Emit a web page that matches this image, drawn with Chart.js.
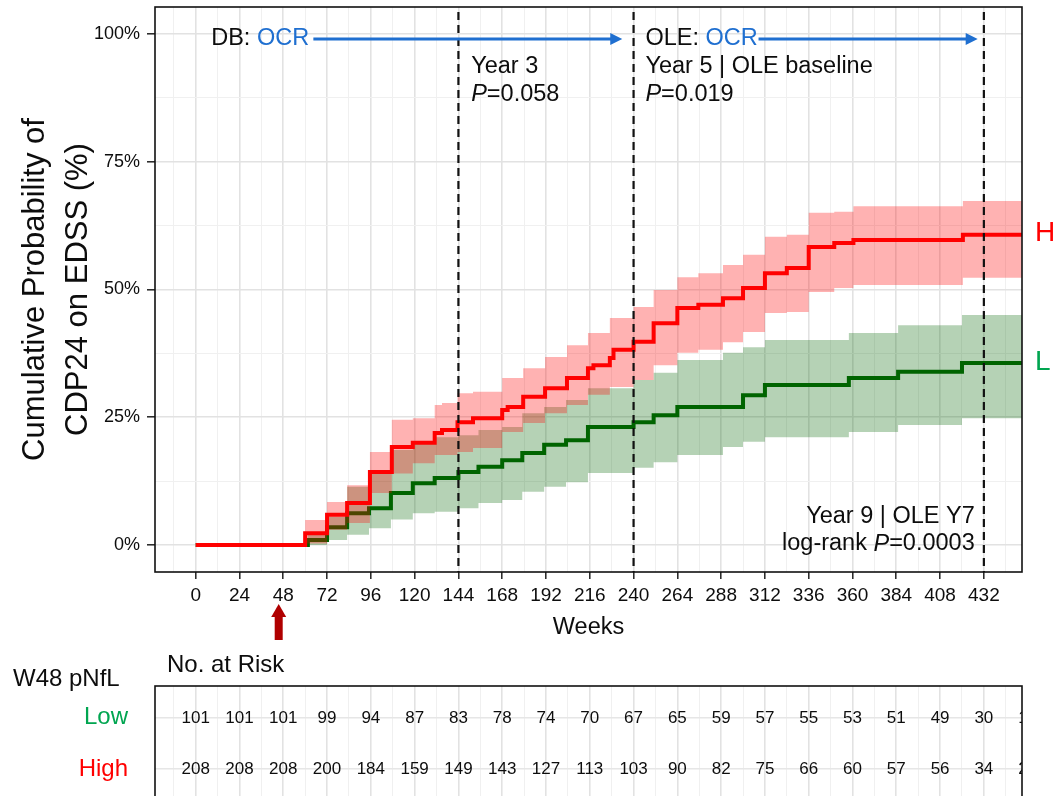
<!DOCTYPE html>
<html>
<head>
<meta charset="utf-8">
<title>CDP24 by W48 pNfL</title>
<script src="https://cdn.jsdelivr.net/npm/chart.js@4.4.1/dist/chart.umd.min.js"></script>
<style>
  html, body { margin: 0; padding: 0; background: #fff; overflow: hidden; }
  #wrap { position: relative; width: 1053px; height: 796px; }
  #km { position: absolute; left: 0; top: 0; }
  #risk { position: absolute; left: 0; top: 640px; }
</style>
</head>
<body>
<div id="wrap">
  <canvas id="km" width="1053" height="650"></canvas>
  <canvas id="risk" width="1053" height="170"></canvas>
</div>
<script>
// ------------------------------
// DATA
// ------------------------------
// High W48 pNfL: step times (weeks), cumulative %, 95% band
const highWeeks = [0, 60, 72, 83, 95.5, 107.5, 119, 131, 135, 143.5, 152, 168, 171, 179.5, 191.5, 203.5, 215, 218, 227, 229, 240, 251, 264, 275.5, 289, 300, 312, 324, 336, 350, 360.5, 420.5, 453];
const highPct   = [0, 2.3, 5.9, 8.2, 14.3, 19.2, 20.0, 21.9, 22.5, 24.0, 24.8, 26.4, 27.0, 29.0, 30.7, 32.7, 34.6, 35.2, 36.6, 38.2, 39.8, 43.4, 46.4, 47.0, 48.3, 50.3, 53.2, 54.2, 58.3, 59.1, 59.7, 60.7, 60.7];
const highUpper = [0, 4.9, 8.4, 11.7, 18.2, 24.5, 24.8, 27.4, 27.8, 29.7, 30.0, 32.7, 32.7, 34.6, 36.8, 39.1, 41.5, 41.5, 44.4, 44.4, 46.6, 49.9, 52.4, 53.2, 54.8, 56.8, 60.3, 60.7, 65.0, 65.2, 66.3, 67.3, 67.3];
const highLower = [0, 0.3, 3.0, 4.3, 10.2, 14.0, 16.0, 17.6, 17.6, 18.2, 19.0, 22.1, 22.1, 23.9, 25.8, 27.4, 29.4, 29.4, 30.9, 30.9, 32.3, 35.2, 37.6, 38.2, 39.7, 41.7, 45.4, 45.6, 49.5, 50.3, 50.9, 52.3, 52.3];

// Low W48 pNfL
const lowWeeks = [0, 61.5, 72, 83, 95, 107, 119, 131, 144, 155, 168, 179, 191, 203, 215, 240, 251, 264, 289, 300, 312, 358, 385, 420, 453];
const lowPct   = [0, 1.0, 3.5, 6.2, 7.2, 10.2, 12.1, 13.1, 14.3, 15.3, 16.6, 18.0, 19.6, 20.5, 23.1, 24.0, 25.4, 27.0, 27.0, 29.3, 31.3, 32.7, 33.9, 35.6, 35.6];
const lowUpper = [0, 2.5, 5.5, 11.4, 14.5, 18.6, 20.0, 21.1, 21.5, 22.5, 23.1, 25.8, 27.0, 28.4, 30.7, 32.3, 33.7, 36.2, 37.6, 38.7, 40.1, 41.5, 43.0, 45.0, 45.0];
const lowLower = [0, 0, 1.0, 2.0, 3.3, 5.0, 6.2, 6.5, 7.2, 8.2, 8.8, 10.4, 11.4, 12.3, 14.1, 15.1, 16.2, 17.6, 19.2, 20.2, 21.1, 22.1, 23.5, 24.8, 24.8];

// axes
const xMajor = [0, 24, 48, 72, 96, 120, 144, 168, 192, 216, 240, 264, 288, 312, 336, 360, 384, 408, 432];
const yMajor = [0, 25, 50, 75, 100];
const yLabels = ['0%', '25%', '50%', '75%', '100%'];
const yearMarks = [144, 240, 432];

// number at risk
const riskWeeks = [0, 24, 48, 72, 96, 120, 144, 168, 192, 216, 240, 264, 288, 312, 336, 360, 384, 408, 432, 456];
const lowRisk  = [101, 101, 101, 99, 94, 87, 83, 78, 74, 70, 67, 65, 59, 57, 55, 53, 51, 49, 30, 14];
const highRisk = [208, 208, 208, 200, 184, 159, 149, 143, 127, 113, 103, 90, 82, 75, 66, 60, 57, 56, 34, 21];

// ------------------------------
// STYLE
// ------------------------------
const FONT = "'Liberation Sans', Arial, Helvetica, sans-serif";
const TXT = '#0d0d0d';
const BLUE = '#1f6fd0';
const RED = '#ff0000';
const DKGREEN = '#006400';
const LOWTXT = '#00a550';
const X_MIN = -22.3, X_MAX = 452.9;
const Y_MIN = -5.28, Y_MAX = 105.28;
const font = (size, style = '') => `${style} ${size}px ${FONT}`.trim();

function gridTicks(major, lo, hi) {
  const step = (major[1] - major[0]) / 2;
  const out = [];
  for (let v = major[0] - step; v <= major[major.length - 1] + step + 1e-9; v += step) {
    if (v >= lo && v <= hi) out.push({ value: v });
  }
  return out;
}

function gridOpts(major) {
  const isMajor = c => major.includes(c.tick.value);
  return {
    color: c => isMajor(c) ? '#e2e2e2' : '#f0f0f0',
    lineWidth: c => isMajor(c) ? 1.6 : 1,
    tickColor: c => isMajor(c) ? '#222' : 'rgba(0,0,0,0)',
    tickWidth: 1.5
  };
}

function noPad(s) {
  s.paddingLeft = 0; s.paddingRight = 0; s.paddingTop = 0; s.paddingBottom = 0;
}

const pts = (w, v) => w.map((x, i) => ({ x, y: v[i] }));

// ------------------------------
// DECORATION PLUGIN (KM panel)
// ------------------------------
function richText(ctx, parts, x, y, size, align) {
  const widths = parts.map(p => {
    ctx.font = font(size, p.italic ? 'italic' : '');
    return ctx.measureText(p.t).width;
  });
  let cx = align === 'right' ? x - widths.reduce((s, w) => s + w, 0) : x;
  ctx.textAlign = 'left';
  ctx.textBaseline = 'middle';
  parts.forEach((p, i) => {
    ctx.font = font(size, p.italic ? 'italic' : '');
    ctx.fillStyle = p.color || TXT;
    ctx.fillText(p.t, cx, y);
    cx += widths[i];
  });
}

function blueArrow(ctx, x0, x1, y) {
  ctx.strokeStyle = BLUE;
  ctx.fillStyle = BLUE;
  ctx.lineWidth = 3;
  ctx.beginPath();
  ctx.moveTo(x0, y);
  ctx.lineTo(x1 - 10, y);
  ctx.stroke();
  ctx.beginPath();
  ctx.moveTo(x1, y);
  ctx.lineTo(x1 - 12, y - 6);
  ctx.lineTo(x1 - 12, y + 6);
  ctx.closePath();
  ctx.fill();
}

const kmDecor = {
  id: 'kmDecor',
  afterDatasetsDraw(chart) {
    const { ctx, chartArea: a, scales: { x } } = chart;
    ctx.save();
    ctx.strokeStyle = '#111';
    ctx.lineWidth = 2.2;
    ctx.setLineDash([8, 5]);
    yearMarks.forEach(w => {
      const px = x.getPixelForValue(w);
      ctx.beginPath();
      ctx.moveTo(px, a.top + 5);
      ctx.lineTo(px, a.bottom);
      ctx.stroke();
    });
    ctx.restore();
  },
  afterDraw(chart) {
    const { ctx, chartArea: a, scales: { x, y } } = chart;
    ctx.save();

    // panel frame
    ctx.strokeStyle = '#111';
    ctx.lineWidth = 1.6;
    ctx.strokeRect(a.left, a.top, a.width, a.height);

    // phase arrows
    const r1 = a.top + 32, r2 = a.top + 60, r3 = a.top + 87.5;
    richText(ctx, [{ t: 'DB: ' }, { t: 'OCR', color: BLUE }], x.getPixelForValue(8.5), r1, 23.5);
    blueArrow(ctx, x.getPixelForValue(64.5), x.getPixelForValue(233.8), r1);
    richText(ctx, [{ t: 'OLE: ' }, { t: 'OCR', color: BLUE }], x.getPixelForValue(246.5), r1, 23.5);
    blueArrow(ctx, x.getPixelForValue(308.5), x.getPixelForValue(428.6), r1);

    // year annotations
    richText(ctx, [{ t: 'Year 3' }], x.getPixelForValue(151), r2, 23.5);
    richText(ctx, [{ t: 'P', italic: true }, { t: '=0.058' }], x.getPixelForValue(151), r3, 23.5);
    richText(ctx, [{ t: 'Year 5 | OLE baseline' }], x.getPixelForValue(246.5), r2, 23.5);
    richText(ctx, [{ t: 'P', italic: true }, { t: '=0.019' }], x.getPixelForValue(246.5), r3, 23.5);
    richText(ctx, [{ t: 'Year 9 | OLE Y7' }], x.getPixelForValue(427), a.bottom - 55, 23.5, 'right');
    richText(ctx, [{ t: 'log-rank ' }, { t: 'P', italic: true }, { t: '=0.0003' }], x.getPixelForValue(427), a.bottom - 28, 23.5, 'right');

    // end labels
    ctx.font = font(28);
    ctx.textAlign = 'left';
    ctx.textBaseline = 'middle';
    ctx.fillStyle = RED;
    ctx.fillText('H', a.right + 13, y.getPixelForValue(highPct[highPct.length - 1]) - 2);
    ctx.fillStyle = LOWTXT;
    ctx.fillText('L', a.right + 13, y.getPixelForValue(lowPct[lowPct.length - 1]) - 1);

    // landmark arrow under week 48
    const ax = x.getPixelForValue(45.5);
    ctx.fillStyle = '#b00000';
    ctx.fillRect(ax - 4, 616, 8, 24);
    ctx.beginPath();
    ctx.moveTo(ax, 604);
    ctx.lineTo(ax - 7.5, 617);
    ctx.lineTo(ax + 7.5, 617);
    ctx.closePath();
    ctx.fill();

    ctx.restore();
  }
};

// ------------------------------
// KM CHART
// ------------------------------
const band = { borderWidth: 0, borderColor: 'rgba(0,0,0,0)', stepped: 'before', pointRadius: 0 };

new Chart(document.getElementById('km'), {
  type: 'line',
  data: {
    datasets: [
      { ...band, data: pts(lowWeeks, lowUpper), fill: '+1', backgroundColor: 'rgba(0,100,0,0.29)', order: 6 },
      { ...band, data: pts(lowWeeks, lowLower), fill: false, order: 6 },
      { data: pts(lowWeeks, lowPct), borderColor: DKGREEN, borderWidth: 4, stepped: 'before', fill: false, pointRadius: 0, order: 5 },
      { ...band, data: pts(highWeeks, highUpper), fill: '+1', backgroundColor: 'rgba(255,0,0,0.3)', order: 4 },
      { ...band, data: pts(highWeeks, highLower), fill: false, order: 4 },
      { data: pts(highWeeks, highPct), borderColor: RED, borderWidth: 4, stepped: 'before', fill: false, pointRadius: 0, order: 1 }
    ]
  },
  options: {
    responsive: false,
    animation: false,
    devicePixelRatio: 1,
    events: [],
    layout: { padding: { top: 7, right: 31, left: 0, bottom: 0 } },
    plugins: { legend: { display: false }, tooltip: { enabled: false } },
    scales: {
      x: {
        type: 'linear',
        min: X_MIN,
        max: X_MAX,
        border: { display: false },
        grid: { ...gridOpts(xMajor), tickLength: 7 },
        afterBuildTicks: s => { s.ticks = gridTicks(xMajor, X_MIN, X_MAX); },
        afterFit: s => { s.height = 78; noPad(s); },
        ticks: {
          autoSkip: false,
          maxRotation: 0,
          padding: 5,
          color: TXT,
          font: { family: FONT, size: 19 },
          callback: v => xMajor.includes(v) ? String(v) : ''
        },
        title: {
          display: true,
          text: 'Weeks',
          color: TXT,
          font: { family: FONT, size: 23.5 },
          padding: { top: 0, bottom: 8 }
        }
      },
      y: {
        type: 'linear',
        min: Y_MIN,
        max: Y_MAX,
        border: { display: false },
        grid: { ...gridOpts(yMajor), tickLength: 8 },
        afterBuildTicks: s => { s.ticks = gridTicks(yMajor, Y_MIN, Y_MAX); },
        afterFit: s => { s.width = 155; noPad(s); },
        ticks: {
          autoSkip: false,
          padding: 7,
          color: TXT,
          font: { family: FONT, size: 18 },
          callback: v => { const i = yMajor.indexOf(v); return i >= 0 ? yLabels[i] : ''; }
        },
        title: {
          display: true,
          text: ['Cumulative Probability of', 'CDP24 on EDSS (%)'],
          color: TXT,
          font: { family: FONT, size: 31, lineHeight: '43px' },
          padding: { top: 13.5, bottom: 0 }
        }
      }
    }
  },
  plugins: [kmDecor]
});

// ------------------------------
// RISK TABLE
// ------------------------------
const riskDecor = {
  id: 'riskDecor',
  afterDraw(chart) {
    const { ctx, chartArea: a, scales: { x, y } } = chart;
    ctx.save();
    ctx.beginPath();
    ctx.rect(a.left, a.top, a.width, a.height);
    ctx.clip();
    ctx.font = font(17);
    ctx.fillStyle = TXT;
    ctx.textAlign = 'center';
    ctx.textBaseline = 'middle';
    riskWeeks.forEach((w, i) => {
      ctx.fillText(String(lowRisk[i]), x.getPixelForValue(w), y.getPixelForValue(1));
      ctx.fillText(String(highRisk[i]), x.getPixelForValue(w), y.getPixelForValue(2));
    });
    ctx.restore();

    ctx.save();
    ctx.strokeStyle = '#111';
    ctx.lineWidth = 1.6;
    ctx.strokeRect(a.left, a.top, a.width, a.height);

    ctx.font = font(24);
    ctx.fillStyle = TXT;
    ctx.textAlign = 'left';
    ctx.textBaseline = 'middle';
    ctx.fillText('No. at Risk', a.left + 12, 25);
    ctx.fillText('W48 pNfL', 13, 39);
    ctx.restore();
  }
};

new Chart(document.getElementById('risk'), {
  type: 'line',
  data: { datasets: [] },
  options: {
    responsive: false,
    animation: false,
    devicePixelRatio: 1,
    events: [],
    layout: { padding: { top: 46, right: 31, left: 0, bottom: 9 } },
    plugins: { legend: { display: false }, tooltip: { enabled: false } },
    scales: {
      x: {
        type: 'linear',
        min: X_MIN,
        max: X_MAX,
        border: { display: false },
        grid: { ...gridOpts(xMajor), drawTicks: false },
        afterBuildTicks: s => { s.ticks = gridTicks(xMajor, X_MIN, X_MAX); },
        afterFit: s => { s.height = 0; noPad(s); },
        ticks: { display: false }
      },
      y: {
        type: 'linear',
        reverse: true,
        min: 0.38,
        max: 2.62,
        border: { display: false },
        grid: { color: '#e6e6e6', lineWidth: 1.6, drawTicks: false },
        afterBuildTicks: s => { s.ticks = [{ value: 1 }, { value: 2 }]; },
        afterFit: s => { s.width = 155; noPad(s); },
        ticks: {
          autoSkip: false,
          padding: 27,
          font: { family: FONT, size: 24 },
          color: c => c.tick.value === 1 ? LOWTXT : RED,
          callback: v => v === 1 ? 'Low' : 'High'
        }
      }
    }
  },
  plugins: [riskDecor]
});
</script>
</body>
</html>
